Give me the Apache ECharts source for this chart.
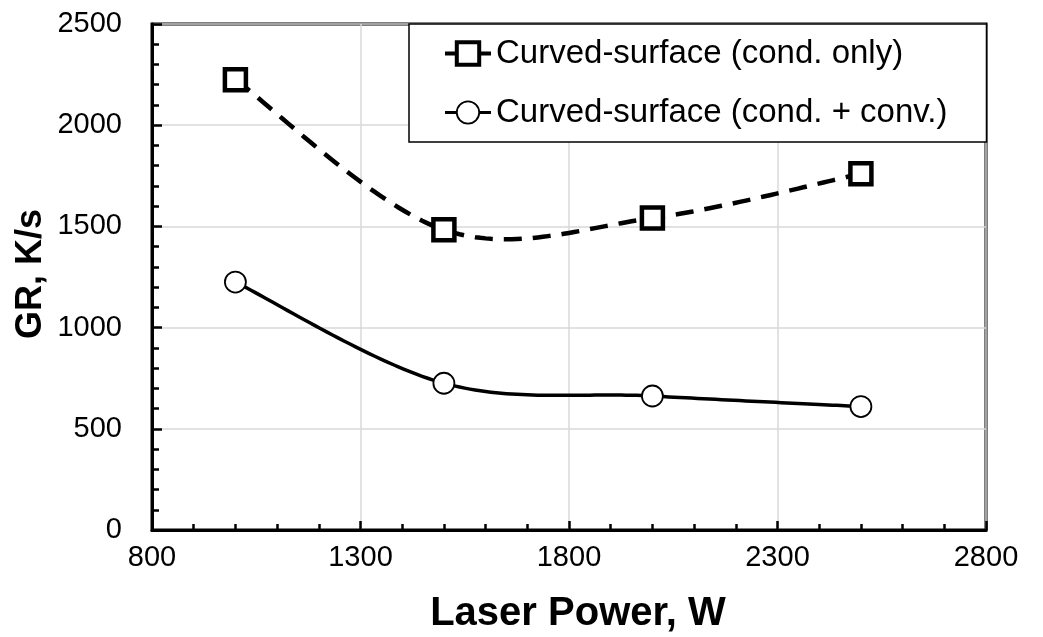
<!DOCTYPE html>
<html>
<head>
<meta charset="utf-8">
<script src="https://cdn.jsdelivr.net/npm/echarts@6/dist/echarts.min.js"></script>
<style>html,body{margin:0;padding:0;background:#fff;}#chart{width:1043px;height:637px;}</style>
</head>
<body>
<div id="chart"></div>
<script>
const laserPower = [1000, 1500, 2000, 2500];
const condOnly = [2225, 1483, 1541, 1760];
const condConv = [1225, 725, 662, 610];
const seriesNames = ['Curved-surface (cond. only)', 'Curved-surface (cond. + conv.)'];
const xTicks = [800, 1300, 1800, 2300, 2800];
const yTicks = [0, 500, 1000, 1500, 2000, 2500];
const xTitle = 'Laser Power, W';
const yTitle = 'GR, K/s';

const FONT = '"Liberation Sans", Arial, sans-serif';
const chart = echarts.init(document.getElementById('chart'), null, {renderer: 'canvas'});
const pairs = (xs, ys) => xs.map((x, i) => [x, ys[i]]);

// Spreadsheet-style smoothed curve (Catmull-Rom, tension 1/6) through the data,
// positioned with the chart's own coordinate system (api.coord).
function smoothCurve(xs, ys, lineStyle) {
  return function (params, api) {
    if (params.dataIndex !== 0) return null;
    const p = xs.map((x, i) => api.coord([x, ys[i]]));
    const n = p.length;
    const pts = [];
    for (let i = 0; i < n - 1; i++) {
      const p0 = p[Math.max(i - 1, 0)], p1 = p[i], p2 = p[i + 1], p3 = p[Math.min(i + 2, n - 1)];
      const c1 = [p1[0] + (p2[0] - p0[0]) / 6, p1[1] + (p2[1] - p0[1]) / 6];
      const c2 = [p2[0] - (p3[0] - p1[0]) / 6, p2[1] - (p3[1] - p1[1]) / 6];
      const steps = 40;
      for (let s = (i === 0 ? 0 : 1); s <= steps; s++) {
        const t = s / steps, u = 1 - t;
        pts.push([
          u*u*u*p1[0] + 3*u*u*t*c1[0] + 3*u*t*t*c2[0] + t*t*t*p2[0],
          u*u*u*p1[1] + 3*u*u*t*c1[1] + 3*u*t*t*c2[1] + t*t*t*p2[1]
        ]);
      }
    }
    return {type: 'polyline', shape: {points: pts}, style: Object.assign({fill: null, stroke: '#000'}, lineStyle), silent: true};
  };
}

chart.setOption({
  animation: false,
  backgroundColor: '#fff',
  grid: {left: 152, top: 24, right: 57, bottom: 107, containLabel: false, outerBoundsMode: 'none',
         show: true, borderColor: '#000', borderWidth: 3, backgroundColor: 'transparent'},
  graphic: [
    {type: 'text', x: 578, y: 614, z: 10,
     style: {text: xTitle, font: 'bold 40px ' + FONT, fill: '#000',
             align: 'center', verticalAlign: 'middle', textAlign: 'center', textVerticalAlign: 'middle'}},
    {type: 'text', x: 31, y: 274, rotation: Math.PI / 2, z: 10,
     style: {text: yTitle, font: 'bold 36px ' + FONT, fill: '#000',
             align: 'center', verticalAlign: 'middle', textAlign: 'center', textVerticalAlign: 'middle'}}
  ],
  legend: {
    orient: 'vertical', left: 409, top: 24,
    padding: [13, 39, 13, 34], itemGap: 26,
    itemWidth: 46, itemHeight: 28, itemTextGap: 5,
    backgroundColor: '#fff', borderColor: '#000', borderWidth: 1.5,
    textStyle: {fontFamily: FONT, fontSize: 33, color: '#000'},
    data: [
      {name: seriesNames[0], lineStyle: {opacity: 1, width: 4, type: 'solid', color: '#000'},
       itemStyle: {color: '#fff', borderColor: '#000', borderWidth: 4}},
      {name: seriesNames[1], lineStyle: {opacity: 1, width: 3, type: 'solid', color: '#000'},
       itemStyle: {color: '#fff', borderColor: '#000', borderWidth: 1.8}}
    ]
  },
  xAxis: {
    type: 'value', min: xTicks[0], max: xTicks[xTicks.length - 1], interval: 500,
    axisLine: {lineStyle: {color: '#000', width: 3}},
    axisTick: {inside: true, length: 9, lineStyle: {color: '#000', width: 2.5}},
    minorTick: {show: true, splitNumber: 5, length: 6, lineStyle: {color: '#000', width: 2.5}},
    axisLabel: {fontFamily: FONT, fontSize: 29, color: '#000', margin: 13, formatter: v => String(v)},
    splitLine: {show: true, lineStyle: {color: '#d9d9d9', width: 1.5}}
  },
  yAxis: {
    type: 'value', min: yTicks[0], max: yTicks[yTicks.length - 1], interval: 500,
    axisLine: {lineStyle: {color: '#000', width: 3}},
    axisTick: {inside: true, length: 10, lineStyle: {color: '#000', width: 2.5}},
    minorTick: {show: true, splitNumber: 5, length: 7, lineStyle: {color: '#000', width: 2.5}},
    axisLabel: {fontFamily: FONT, fontSize: 29, color: '#000', margin: 30, formatter: v => String(v)},
    splitLine: {show: true, lineStyle: {color: '#d9d9d9', width: 1.5}}
  },
  series: [
    {
      type: 'custom', data: pairs(laserPower, condOnly), z: 2,
      renderItem: smoothCurve(laserPower, condOnly, {lineWidth: 4.5, lineDash: [18, 11]})
    },
    {
      type: 'custom', data: pairs(laserPower, condConv), z: 2,
      renderItem: smoothCurve(laserPower, condConv, {lineWidth: 3.5})
    },
    {
      name: seriesNames[0], type: 'line',
      data: pairs(laserPower, condOnly),
      symbol: 'rect', symbolSize: 21,
      itemStyle: {color: '#fff', borderColor: '#000', borderWidth: 4.5},
      lineStyle: {color: '#000', width: 4.5, opacity: 0},
      z: 3
    },
    {
      name: seriesNames[1], type: 'line',
      data: pairs(laserPower, condConv),
      symbol: 'circle', symbolSize: 21,
      itemStyle: {color: '#fff', borderColor: '#000', borderWidth: 1.8},
      lineStyle: {color: '#000', width: 3.5, opacity: 0},
      z: 3
    }
  ]
});
</script>
</body>
</html>
